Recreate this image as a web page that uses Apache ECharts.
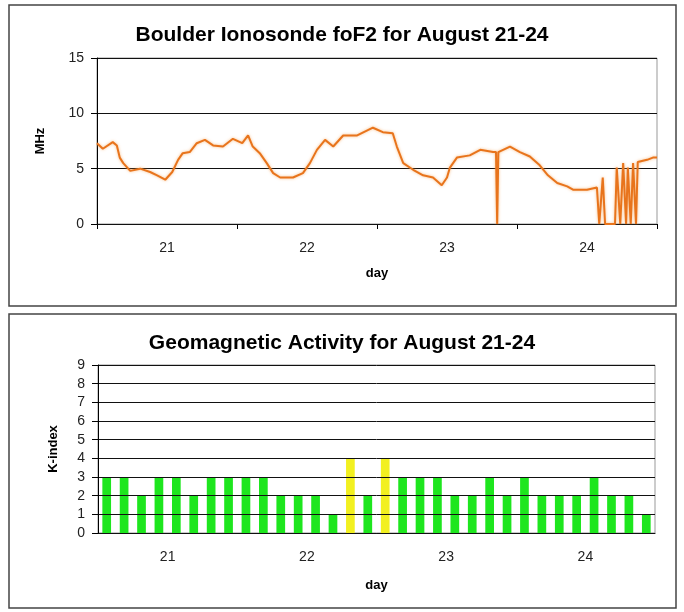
<!DOCTYPE html>
<html>
<head>
<meta charset="utf-8">
<script src="https://cdn.jsdelivr.net/npm/echarts@6/dist/echarts.min.js"></script>
<style>
body { margin: 0; background: #fff; }
#chart { width: 684px; height: 612px; }
</style>
</head>
<body>
<div id="chart"></div>
<script>
// day labels shared by both panels
const days = ["21", "22", "23", "24"];

// foF2 readings: hours since Aug 21 00:00, value in MHz
const hours = [
    0.0, 1.0, 2.7, 3.4, 3.9, 4.5, 5.7, 7.4, 9.1, 10.3, 11.7, 12.9, 13.9, 14.7, 15.9,
    17.1, 18.5, 19.9, 21.6, 23.3, 24.9, 25.9, 26.7, 27.9, 29.1, 30.2, 31.4, 33.6,
    35.3, 36.5, 37.7, 39.1, 40.5, 42.2, 44.6, 47.3, 49.0, 50.7, 51.4, 52.5, 54.2,
    55.9, 57.6, 59.1, 60.0, 60.5, 61.7, 63.9, 65.7, 67.9, 68.4, 68.6, 68.8, 70.8,
    72.5, 74.2, 75.9, 77.3, 78.9, 80.6, 81.6, 84.0, 85.7, 86.1, 86.7, 87.1, 88.8,
    89.1, 89.7, 90.2, 90.7, 91.0, 91.5, 91.9, 92.4, 92.7, 94.3, 95.3, 96.0
];
const foF2 = [
    7.3, 6.8, 7.4, 7.1, 6.0, 5.5, 4.8, 5.0, 4.7, 4.4, 4.0, 4.7, 5.8, 6.4, 6.5,
    7.3, 7.6, 7.1, 7.0, 7.7, 7.3, 8.0, 7.0, 6.4, 5.5, 4.6, 4.2, 4.2,
    4.6, 5.5, 6.7, 7.6, 7.0, 8.0, 8.0, 8.7, 8.3, 8.2, 7.0, 5.5, 4.9,
    4.4, 4.2, 3.5, 4.2, 5.1, 6.0, 6.2, 6.7, 6.5, 6.5, 0, 6.5, 7.0,
    6.5, 6.1, 5.3, 4.4, 3.7, 3.4, 3.1, 3.1, 3.3, 0, 4.2, 0, 0,
    5.1, 0, 5.5, 0, 5.1, 0, 5.5, 0, 5.6, 5.8, 6.0, 6.0
];

// 3-hourly K-index, 8 per day
const kIndex = [
    3, 3, 2, 3, 3, 2, 3, 3,
    3, 3, 2, 2, 2, 1, 4, 2,
    4, 3, 3, 3, 2, 2, 3, 2,
    3, 2, 2, 2, 3, 2, 2, 1
];
const kSlots = kIndex.map((v, i) => String(i));

const font = "Liberation Sans";
const green = "#1ee61e";
const yellow = "#f2f020";

let chart = echarts.init(document.getElementById("chart"));

const labelAxis = (gridIndex, gap) => ({
    type: "category",
    gridIndex: gridIndex,
    position: "bottom",
    data: days,
    boundaryGap: true,
    axisLine: { show: false },
    axisTick: { show: false },
    axisLabel: { margin: 17, fontFamily: font, fontSize: 14, color: "#222" },
    name: "day",
    nameLocation: "middle",
    nameGap: gap,
    nameTextStyle: { fontFamily: font, fontSize: 13, fontWeight: "bold", color: "#000" },
});

const valueAxis = (gridIndex, max, interval, name, gap) => ({
    type: "value",
    gridIndex: gridIndex,
    min: 0,
    max: max,
    interval: interval,
    z: 5,
    axisLine: { show: true, lineStyle: { color: "#000" } },
    axisTick: { show: true, length: 6, lineStyle: { color: "#000" } },
    axisLabel: { margin: 13, fontFamily: font, fontSize: 14, color: "#222" },
    splitLine: { lineStyle: { color: "#111", width: 1 } },
    name: name,
    nameLocation: "middle",
    nameGap: gap,
    nameTextStyle: { fontFamily: font, fontSize: 13, fontWeight: "bold", color: "#000" },
});

let option = {
    animation: false,
    backgroundColor: "#fff",
    textStyle: { fontFamily: font },
    title: [
        {
            text: "Boulder Ionosonde foF2 for August 21-24",
            left: "center",
            top: 20,
            textStyle: { fontFamily: font, fontSize: 21, fontWeight: "bold", color: "#000" },
        },
        {
            text: "Geomagnetic Activity for August 21-24",
            left: "center",
            top: 328,
            textStyle: { fontFamily: font, fontSize: 21, fontWeight: "bold", color: "#000" },
        },
    ],
    graphic: [
        {
            type: "rect",
            shape: { x: 9, y: 5, width: 667, height: 301 },
            style: { fill: "none", stroke: "#444", lineWidth: 1.5 },
            silent: true,
        },
        {
            type: "rect",
            shape: { x: 9, y: 314, width: 667, height: 294 },
            style: { fill: "none", stroke: "#444", lineWidth: 1.5 },
            silent: true,
        },
    ],
    grid: [
        { left: 97, right: 27, top: 58, height: 166, show: true, borderColor: "#999", borderWidth: 1 },
        { left: 98, right: 29, top: 365, height: 168, show: true, borderColor: "#999", borderWidth: 1 },
    ],
    xAxis: [
        {
            type: "value",
            gridIndex: 0,
            min: 0,
            max: 96,
            interval: 24,
            axisLine: { lineStyle: { color: "#000" } },
            axisTick: { length: 5, lineStyle: { color: "#000" } },
            axisLabel: { show: false },
            splitLine: { show: false },
        },
        labelAxis(0, 43),
        {
            type: "category",
            gridIndex: 1,
            data: kSlots,
            boundaryGap: true,
            axisLine: { lineStyle: { color: "#000" } },
            axisTick: { interval: 7, length: 5, lineStyle: { color: "#000" } },
            axisLabel: { show: false },
        },
        labelAxis(1, 46),
    ],
    yAxis: [
        valueAxis(0, 15, 5, "MHz", 50),
        valueAxis(1, 9, 1, "K-index", 38),
    ],
    series: [
        {
            name: "foF2",
            type: "line",
            xAxisIndex: 0,
            yAxisIndex: 0,
            z: 6,
            data: hours.map((h, i) => [h, foF2[i]]),
            showSymbol: false,
            lineStyle: {
                color: "#e8741c",
                width: 2,
                shadowBlur: 3,
                shadowColor: "rgba(245,160,80,0.7)",
            },
        },
        {
            name: "K-index",
            type: "bar",
            xAxisIndex: 2,
            yAxisIndex: 1,
            data: kIndex,
            barWidth: "50%",
            itemStyle: {
                color: (p) => (p.value >= 4 ? yellow : green),
            },
        },
    ],
};
chart.setOption(option);
</script>
</body>
</html>
